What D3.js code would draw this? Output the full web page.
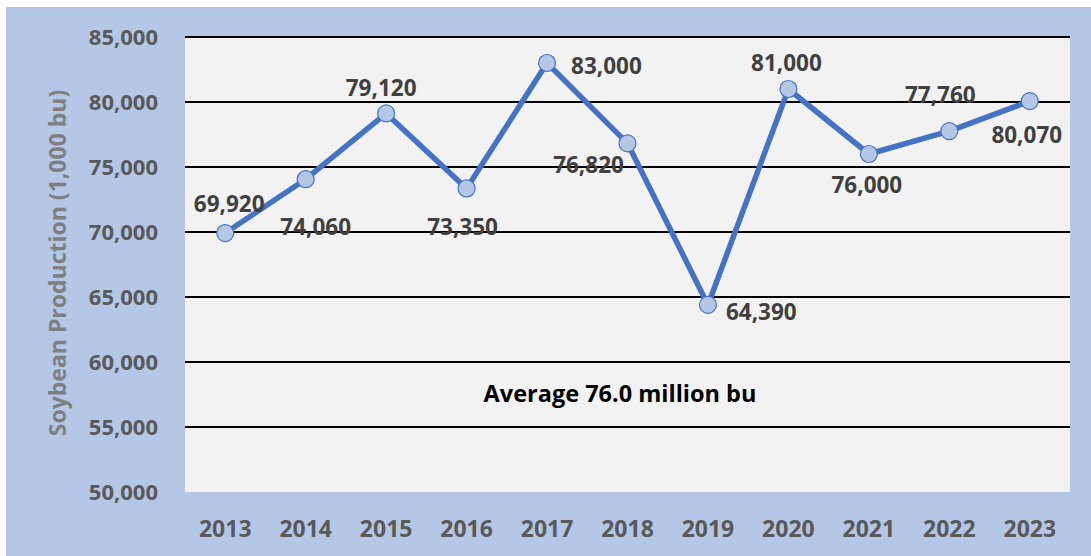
<!DOCTYPE html>
<html><head><meta charset="utf-8">
<script src="https://cdn.jsdelivr.net/npm/d3@7"></script>
<style>
html,body{margin:0;padding:0;background:#fff;}
svg{display:block;font-family:"Open Sans",sans-serif;}
</style></head>
<body><svg id="c" width="1091" height="556"></svg>
<script>
const years = ["2013","2014","2015","2016","2017","2018","2019","2020","2021","2022","2023"];
const production = [69920,74060,79120,73350,83000,76820,64390,81000,76000,77760,80070];
const yTicks = [50000,55000,60000,65000,70000,75000,80000,85000];
// label placement (styling): offset of text baseline from point in px
const labelDx = [4,10,-5,-4,24,-39,18,-2,-2,-9,-3];
const labelDy = [-21,56,-17,47,11,30,15,-18,39,-28,42];
const labelAnchor = ["middle","middle","middle","middle","start","middle","start","middle","middle","middle","middle"];
const avgText = "Average 76.0 million bu";
const yTitle = "Soybean Production (1,000 bu)";

const svg = d3.select("#c");
svg.append("rect").attr("x",6).attr("y",7).attr("width",1085).attr("height",549).attr("fill","#b4c7e7");
const L=185,R=1070,T=37,B=492;
svg.append("rect").attr("x",L).attr("y",T).attr("width",R-L).attr("height",B-T).attr("fill","#f2f2f2");

const x = d3.scaleBand().domain(years).range([L,R]);
const y = d3.scaleLinear().domain([50000,85000]).range([B,T]);
const fmt = d3.format(",");
const gray = "#595959";

// gridlines
svg.append("g").selectAll("line").data(yTicks.filter(d=>d>50000)).join("line")
  .attr("x1",L).attr("x2",R).attr("y1",d=>y(d)).attr("y2",d=>y(d))
  .attr("stroke","#000").attr("stroke-width",2);

// y axis
const ya = svg.append("g").attr("transform",`translate(${L},0)`)
  .call(d3.axisLeft(y).tickValues(yTicks).tickFormat(fmt).tickSize(0).tickPadding(27));
ya.select(".domain").remove();
ya.selectAll("text").attr("font-size",22).attr("font-weight","bold").attr("fill",gray)
  .attr("font-family","Open Sans").attr("dy","0.35em");

// x axis
const xa = svg.append("g").attr("transform",`translate(0,${B})`)
  .call(d3.axisBottom(x).tickSize(0));
xa.select(".domain").remove();
xa.selectAll("text").attr("font-size",23).attr("font-weight","bold").attr("fill",gray)
  .attr("font-family","Open Sans").attr("y",45).attr("dy",0);

// y title
svg.append("text").attr("transform",`translate(66,263) rotate(-90)`)
  .attr("text-anchor","middle").attr("font-size",23).attr("font-weight","bold")
  .attr("fill","#7f7f7f").text(yTitle);

// line
const cx = d=>x(d)+x.bandwidth()/2;
svg.append("path").datum(production.map((v,i)=>[years[i],v]))
  .attr("d",d3.line().x(d=>cx(d[0])).y(d=>y(d[1])))
  .attr("fill","none").attr("stroke","#4472c4").attr("stroke-width",5.5).attr("stroke-linejoin","round");
svg.append("g").selectAll("circle").data(production).join("circle")
  .attr("cx",(d,i)=>cx(years[i])).attr("cy",d=>y(d)).attr("r",8.5)
  .attr("fill","#b4c7e7").attr("stroke","#4472c4").attr("stroke-width",1.2);

// labels
svg.append("g").selectAll("text").data(production).join("text")
  .attr("x",(d,i)=>cx(years[i])+labelDx[i]).attr("y",(d,i)=>y(d)+labelDy[i])
  .attr("text-anchor",(d,i)=>labelAnchor[i])
  .attr("font-size",22.5).attr("font-weight","bold").attr("fill","#404040")
  .text(d=>fmt(d));

svg.append("text").attr("x",620).attr("y",402).attr("text-anchor","middle")
  .attr("font-size",23.5).attr("font-weight","bold").attr("fill","#000").text(avgText);
</script></body></html>
